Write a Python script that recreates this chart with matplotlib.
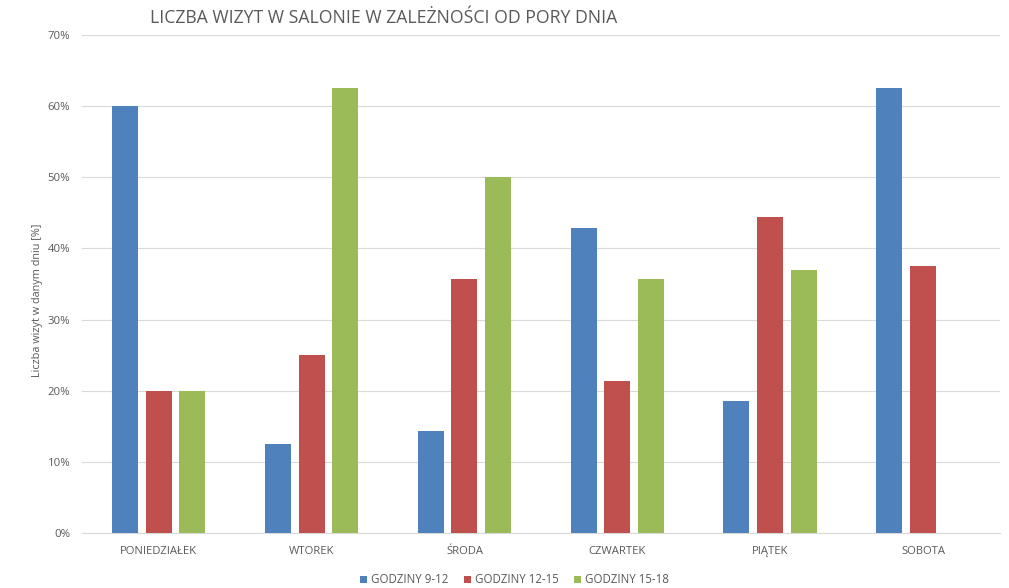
import matplotlib
matplotlib.use("Agg")
import matplotlib.pyplot as plt
import numpy as np
from matplotlib.ticker import FuncFormatter

plt.rcParams['font.family'] = ['Open Sans', 'DejaVu Sans']

days = ["PONIEDZIAŁEK", "WTOREK", "ŚRODA", "CZWARTEK", "PIĄTEK", "SOBOTA"]
series_names = ["GODZINY 9-12", "GODZINY 12-15", "GODZINY 15-18"]
hours_9_12 = [60.0, 12.5, 14.3, 42.9, 18.5, 62.5]
hours_12_15 = [20.0, 25.0, 35.7, 21.4, 44.4, 37.5]
hours_15_18 = [20.0, 62.5, 50.0, 35.7, 37.0, 0.0]
y_ticks = [0, 10, 20, 30, 40, 50, 60, 70]

colors = ["#4F81BD", "#C0504D", "#9BBB59"]
text_color = "#595959"

fig = plt.figure(figsize=(10.09, 5.88), dpi=100)
ax = fig.add_axes([0.0813, 0.0935, 0.9097, 0.847])

x = np.arange(len(days))
width = 0.17
offset = 0.222
for i, (vals, name) in enumerate(zip([hours_9_12, hours_12_15, hours_15_18], series_names)):
    ax.bar(x + (i - 1) * offset, vals, width=width, color=colors[i], label=name, zorder=3)

ax.set_xlim(-0.5, len(days) - 0.5)
ax.set_ylim(0, 70)
ax.set_yticks(y_ticks)
ax.yaxis.set_major_formatter(FuncFormatter(lambda v, p: f"{int(v)}%"))
ax.set_xticks(x)
ax.set_xticklabels(days, fontsize=8.1)

ax.grid(axis='y', color="#D9D9D9", linewidth=0.8, zorder=0)
for s in ["top", "right", "left"]:
    ax.spines[s].set_visible(False)
ax.spines["bottom"].set_color("#D9D9D9")
ax.tick_params(axis='both', length=0, colors=text_color)
ax.tick_params(axis='x', pad=9)
ax.tick_params(axis='y', pad=8.5, labelsize=8.2)

fig.text(0.0372, 1 - 300 / 588, "Liczba wizyt w danym dniu [%]", color=text_color,
         fontsize=7.8, rotation=90, ha='center', va='center')

fig.text(0.1487, 0.969, "LICZBA WIZYT W SALONIE W ZALEŻNOŚCI OD PORY DNIA",
         color=text_color, fontsize=12.7, ha='left', va='center')

leg = fig.legend(loc='center', bbox_to_anchor=(0.51, 0.014), ncol=3, frameon=False,
                 fontsize=8.3, handlelength=0.6, handleheight=0.6, handletextpad=0.3,
                 columnspacing=1.4)
for t in leg.get_texts():
    t.set_color(text_color)

fig.savefig("out.png", dpi=100, facecolor="white")
